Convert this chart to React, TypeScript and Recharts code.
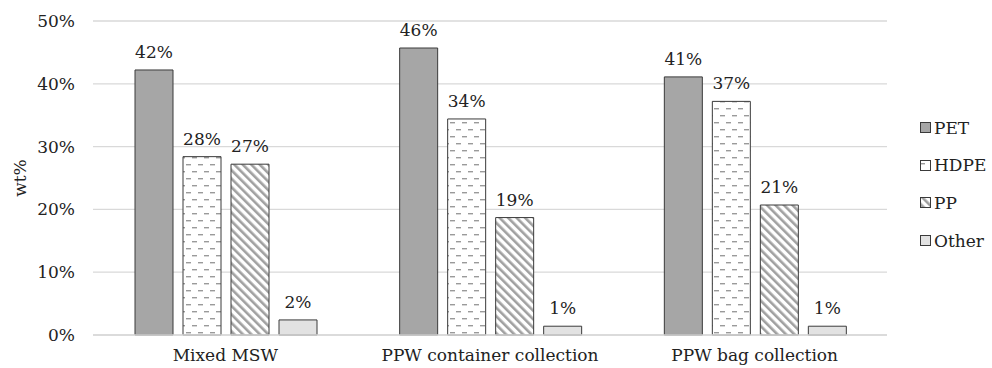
import React from "react";
import {
  Bar,
  BarChart,
  CartesianGrid,
  LabelList,
  Legend,
  XAxis,
  YAxis
} from "recharts";

const categories = ["Mixed MSW", "PPW container collection", "PPW bag collection"];
const pet = [42.2, 45.7, 41.1];
const hdpe = [28.4, 34.4, 37.2];
const pp = [27.2, 18.7, 20.7];
const other = [2.4, 1.4, 1.4];
const yTicks = [0, 10, 20, 30, 40, 50];

const data = categories.map((name, i) => ({
  name,
  pet: pet[i],
  hdpe: hdpe[i],
  pp: pp[i],
  other: other[i]
}));

const FONT = '"DejaVu Serif", serif';
const EDGE = "#3a3a3a";

const series = [
  { key: "pet", name: "PET", fill: "#a6a6a6" },
  { key: "hdpe", name: "HDPE", fill: "url(#dashFill)" },
  { key: "pp", name: "PP", fill: "url(#stripeFill)" },
  { key: "other", name: "Other", fill: "#e2e2e2" }
];

function Patterns() {
  return (
    <defs>
      <pattern id="dashFill" width="12" height="14" patternUnits="userSpaceOnUse">
        <rect width="12" height="14" fill="#ffffff" />
        <rect x="0" y="3" width="5" height="1.4" fill="#9a9a9a" />
        <rect x="6" y="10" width="5" height="1.4" fill="#9a9a9a" />
      </pattern>
      <pattern id="stripeFill" width="6" height="6" patternUnits="userSpaceOnUse" patternTransform="rotate(-45)">
        <rect width="6" height="6" fill="#ffffff" />
        <rect x="0" y="0" width="2.6" height="6" fill="#a0a0a0" />
      </pattern>
    </defs>
  );
}

function LegendBox() {
  return (
    <div style={{ fontFamily: FONT, fontSize: 17, color: "#222" }}>
      {series.map((s) => (
        <div key={s.key} style={{ height: 37.6, display: "flex", alignItems: "center" }}>
          <svg width={11} height={11} style={{ marginRight: 3 }}>
            <rect x={0.5} y={0.5} width={10} height={10} fill={s.fill} stroke={EDGE} strokeWidth={1} />
          </svg>
          <span>{s.name}</span>
        </div>
      ))}
    </div>
  );
}

export default function App() {
  return (
    <div style={{ position: "absolute", left: 0, top: 0, width: 992, height: 368, background: "#fff", fontFamily: FONT }}>
      <BarChart
        width={992}
        height={368}
        data={data}
        margin={{ top: 21, right: 105, bottom: 0, left: 0 }}
        barCategoryGap={42}
        barGap={10}
        style={{ fontFamily: FONT }}
      >
        <Patterns />
        <CartesianGrid vertical={false} stroke="#d9d9d9" strokeWidth={1.3} />
        <XAxis
          dataKey="name"
          height={33}
          tickLine={false}
          tickMargin={8}
          axisLine={{ stroke: "#d9d9d9", strokeWidth: 1.3 }}
          tick={{ fill: "#222", fontSize: 17, fontFamily: FONT }}
        />
        <YAxis
          width={93}
          domain={[0, 50]}
          ticks={yTicks}
          tickFormatter={(v) => `${v}%`}
          axisLine={false}
          tickLine={false}
          tickMargin={12}
          tick={{ fill: "#222", fontSize: 17, fontFamily: FONT }}
          label={{
            value: "wt%",
            angle: -90,
            position: "insideLeft",
            offset: 20,
            style: { textAnchor: "middle", fontSize: 17, fontFamily: FONT, fill: "#222" }
          }}
        />
        <Legend
          layout="vertical"
          align="center"
          verticalAlign="middle"
          wrapperStyle={{ left: 920, top: 109, width: 72 }}
          content={() => <LegendBox />}
        />
        {series.map((s) => (
          <Bar
            key={s.key}
            dataKey={s.key}
            name={s.name}
            fill={s.fill}
            stroke={EDGE}
            strokeWidth={1}
            isAnimationActive={false}
          >
            <LabelList
              dataKey={s.key}
              position="top"
              offset={12}
              formatter={(v: number) => `${Math.round(v)}%`}
              style={{ fill: "#222", fontSize: 17, fontFamily: FONT }}
            />
          </Bar>
        ))}
      </BarChart>
    </div>
  );
}
